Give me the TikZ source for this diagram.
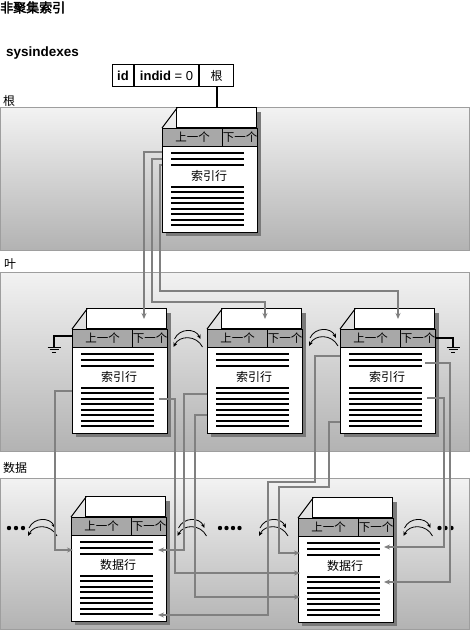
\documentclass[tikz,border=0pt]{standalone}
\usepackage{fontspec}
\setmainfont{Liberation Sans}
\newfontfamily\cjk[AutoFakeBold=2.5]{Noto Sans CJK SC}
\usetikzlibrary{arrows.meta, positioning, calc}

% one index / data page: name, left x, header top y, row text
\newcommand\docpage[4]{%
  \begin{scope}[shift={(#2,-#3)}]
    \fill[pageshadow] (95,16) rectangle (99,-108);
    \fill[pageshadow] (4,-104) rectangle (99,-108);
    \node[pageflap] (#1-flap) at (95,0) {};
    \draw[line width=1pt] (15,20) -- (0,0);
    \node[pagebody] (#1) at (0,0) {};
    \node[hdrcell, minimum width=60pt] (#1-prev) at (0,0) {上一个};
    \node[hdrcell, minimum width=35pt] (#1-next) at (60,0) {下一个};
    \foreach \ly in {25,31,37} \draw[rowline] (9,-\ly) -- (82,-\ly);
    \node[rowtext] (#1-text) at (47,-48) {#4};
    \foreach \rr in {0,...,7} \draw[rowline] (9,{-59-5.43*\rr}) -- (82,{-59-5.43*\rr});
  \end{scope}
}

% pair of crossing prev/next arcs around (x,y)
\newcommand\swaparrows[2]{%
  \draw[swaparc] (#1-13,-#2) .. controls (#1-8,-#2+11) and (#1+8,-#2+11) .. (#1+13,-#2);
  \draw[swaparc] (#1+15,-#2-8) .. controls (#1+9,-#2+4) and (#1-8,-#2+4) .. (#1-14,-#2-8);
}

\begin{document}
\begin{tikzpicture}[
  x=1pt, y=1pt,
  band/.style={draw=black!38, line width=1pt, top color=black!5, bottom color=black!30},
  bandlabel/.style={font=\cjk\fontsize{12}{12}\selectfont, anchor=west, inner sep=0},
  pagebody/.style={draw, line width=1pt, fill=white, minimum width=95pt, minimum height=104pt,
    inner sep=0, anchor=north west},
  pageflap/.style={draw, line width=1pt, fill=white, minimum width=80pt, minimum height=20pt,
    inner sep=0, anchor=south east},
  hdrcell/.style={draw, line width=1pt, fill=black!34, minimum height=18pt, inner sep=0,
    font=\cjk\fontsize{11.5}{12}\selectfont, anchor=north west},
  rowline/.style={line width=2pt},
  rowtext/.style={font=\cjk\fontsize{12}{12}\selectfont, inner sep=0},
  pageshadow/.style={fill=black!52},
  link/.style={draw=black!50, line width=2pt, -{Stealth[length=6pt, width=5pt]}},
  swaparc/.style={line width=0.8pt, -{Stealth[length=4.5pt, width=4pt]}},
  gndwire/.style={line width=2pt},
  tabcell/.style={draw, line width=1pt, minimum height=22pt, inner sep=0,
    font=\fontsize{13}{13}\selectfont},
]
\useasboundingbox (0,0) rectangle (470,-630);

% =============================================
% Bands
% =============================================
\draw[band] (0.5,-107.5) rectangle (469.5,-250);
\draw[band] (0.5,-272) rectangle (469.5,-451);
\draw[band] (0.5,-478) rectangle (469.5,-629.5);

\node[bandlabel] (rootlbl) at (3,-101) {根};
\node[bandlabel] (leaflbl) at (4,-264) {叶};
\node[bandlabel] (datalbl) at (3,-468) {数据};

% Title
\node[anchor=west, inner sep=0, font=\cjk\bfseries\fontsize{13}{13}\selectfont] (title) at (0,-7.5) {非聚集索引};
\node[anchor=base west, inner sep=0, font=\bfseries\fontsize{13.5}{14}\selectfont] (sysidx) at (6,-56) {sysindexes};

% sysindexes row
\node[tabcell, minimum width=21pt, anchor=north west] (tabid) at (112,-64) {\bfseries id};
\node[tabcell, minimum width=64pt, anchor=west] (tabindid) at (tabid.east) {\textbf{indid} = 0};
\node[tabcell, minimum width=34pt, anchor=west, font=\cjk\fontsize{12}{12}\selectfont] (tabroot) at (tabindid.east) {根};

% =============================================
% Pages
% =============================================
\docpage{rootpg}{162}{128}{索引行}
\docpage{leafL}{72}{329}{索引行}
\docpage{leafM}{207}{329}{索引行}
\docpage{leafR}{340}{329}{索引行}
\docpage{dataL}{71}{517}{数据行}
\docpage{dataR}{298}{518}{数据行}

\draw[line width=2pt] (tabroot.south) -- (rootpg-flap.north -| tabroot.south);

% ground at both ends of the leaf chain
\draw[gndwire] ([yshift=-7pt]leafL.north west) -- ++(-18,0) -- ++(0,-11) coordinate (gndL);
\draw[gndwire] ([yshift=-9pt]leafR.north east) -- ++(17,0) -- ++(0,-9) coordinate (gndR);
\foreach \g in {gndL,gndR} {
  \draw[line width=1pt] ([xshift=-6.5pt]\g) -- ++(13,0);
  \draw[line width=1pt] ([xshift=-4.5pt,yshift=-2.5pt]\g) -- ++(9,0);
  \draw[line width=1pt] ([xshift=-2pt,yshift=-5pt]\g) -- ++(4,0);
}

% prev/next chain arcs
\swaparrows{187.5}{339}
\swaparrows{323}{338}
\swaparrows{42}{528}
\swaparrows{191.5}{528}
\swaparrows{273}{528}
\swaparrows{417.5}{528}

% more pages
\foreach \dx in {9,16,23} \fill (\dx,-528) circle (2.2pt);
\foreach \dx in {220,226.5,233,239.5} \fill (\dx,-528) circle (2.2pt);
\foreach \dx in {439.5,445.5,451.5} \fill (\dx,-528) circle (2.2pt);

% =============================================
% Root -> leaf
% =============================================
\draw[link] ([yshift=-24pt]rootpg.north west) -| ([xshift=72pt,yshift=10pt]leafL.north west);
\draw[link] ([yshift=-31pt]rootpg.north west) -- ++(-10,0) -- ++(0,-143) -| ([xshift=58pt,yshift=10pt]leafM.north west);
\draw[link] ([yshift=-37pt]rootpg.north west) -- ++(-2,0) -- ++(0,-126) -| ([xshift=58pt,yshift=10pt]leafR.north west);

% =============================================
% Leaf -> data
% =============================================
\draw[link] ([yshift=-62pt]leafL.north west) -- ++(-17,0) |- ([xshift=2pt,yshift=-33pt]dataL.north west);
\draw[link] ([xshift=-9pt,yshift=-70pt]leafL.north east) -- ++(16,0) |- ([xshift=2pt,yshift=-55pt]dataR.north west);
\draw[link] ([yshift=-65pt]leafM.north west) -- ++(-23,0) |- ([xshift=-9pt,yshift=-33pt]dataL.north east);
\draw[link] ([yshift=-86pt]leafM.north west) -- ++(-12,0) |- ([xshift=2pt,yshift=-79pt]dataR.north west);
\draw[link] ([yshift=-27pt]leafR.north west) -- ++(-25,0) -- ++(0,-126) -- ++(-47,0) |- ([xshift=-9pt,yshift=-98pt]dataL.north east);
\draw[link] ([yshift=-93pt]leafR.north west) -- ++(-11,0) -- ++(0,-65) -- ++(-50,0) |- ([xshift=2pt,yshift=-35pt]dataR.north west);
\draw[link] ([xshift=-9pt,yshift=-69pt]leafR.north east) -- ++(17,0) |- ([xshift=-10pt,yshift=-29pt]dataR.north east);
\draw[link] ([xshift=-11pt,yshift=-34pt]leafR.north east) -- ++(25,0) |- ([xshift=-10pt,yshift=-64pt]dataR.north east);

\end{tikzpicture}
\end{document}
